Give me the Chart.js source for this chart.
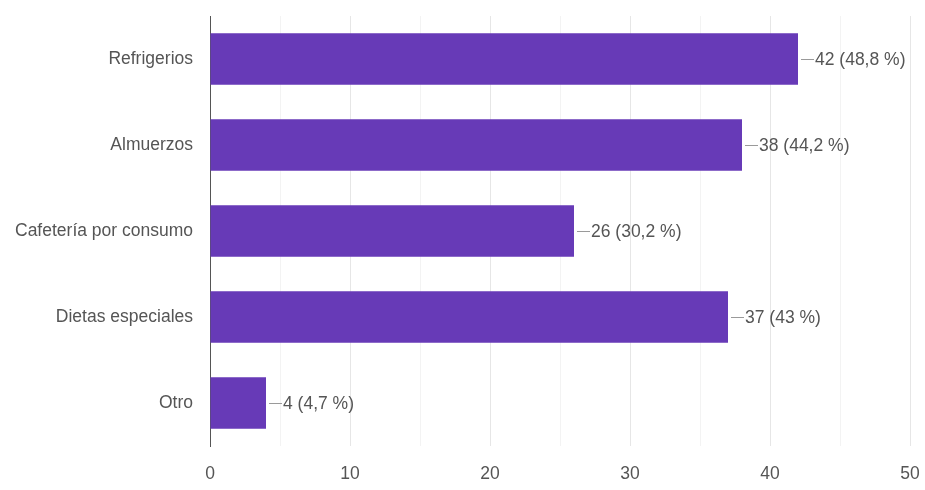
<!DOCTYPE html>
<html>
<head>
<meta charset="utf-8">
<script src="https://cdn.jsdelivr.net/npm/chart.js@4/dist/chart.umd.min.js"></script>
<style>
  html, body { margin: 0; padding: 0; background: #ffffff; }
  #wrap { width: 925px; height: 490px; position: relative; }
</style>
</head>
<body>
<div id="wrap"><canvas id="c" width="925" height="490"></canvas></div>
<script>
const categories = ["Refrigerios", "Almuerzos", "Cafetería por consumo", "Dietas especiales", "Otro"];
const counts = [42, 38, 26, 37, 4];
const percents = [48.8, 44.2, 30.2, 43, 4.7];
const xTickValues = [0, 10, 20, 30, 40, 50];

const FONT = "'Liberation Sans', Arial, sans-serif";
const FSIZE = 17.5;
const TEXT = '#555555';

const valueLabels = {
  id: 'valueLabels',
  afterDatasetsDraw(chart) {
    const ctx = chart.ctx;
    const meta = chart.getDatasetMeta(0);
    ctx.save();
    ctx.font = FSIZE + 'px ' + FONT;
    ctx.textAlign = 'left';
    ctx.textBaseline = 'middle';
    meta.data.forEach((bar, i) => {
      const x = bar.x, y = bar.y;
      ctx.strokeStyle = '#9a9a9a';
      ctx.lineWidth = 1;
      ctx.beginPath();
      ctx.moveTo(x + 3, y + 0.5);
      ctx.lineTo(x + 16, y + 0.5);
      ctx.stroke();
      ctx.fillStyle = TEXT;
      const pct = String(percents[i]).replace('.', ',');
      ctx.fillText(counts[i] + ' (' + pct + ' %)', x + 17, y + 1);
    });
    ctx.restore();
  }
};

new Chart(document.getElementById('c'), {
  type: 'bar',
  data: {
    labels: categories,
    datasets: [{
      data: counts,
      backgroundColor: '#673ab7',
      borderWidth: 0,
      barPercentage: 0.6,
      categoryPercentage: 1.0
    }]
  },
  options: {
    indexAxis: 'y',
    responsive: false,
    animation: false,
    layout: { padding: { top: 16, right: 15, bottom: 0, left: 0 } },
    plugins: { legend: { display: false }, tooltip: { enabled: false } },
    scales: {
      x: {
        min: 0,
        max: 50,
        afterFit(scale) {
          scale.height = 44;
          scale.paddingLeft = 0; scale.paddingRight = 0;
        },
        afterBuildTicks(scale) {
          const t = [];
          for (let v = 0; v <= 50; v += 5) t.push({ value: v });
          scale.ticks = t;
        },
        ticks: {
          color: TEXT,
          font: { family: FONT, size: FSIZE },
          padding: 18,
          autoSkip: false,
          maxRotation: 0,
          callback: (v) => xTickValues.includes(v) ? String(v) : ''
        },
        grid: {
          drawTicks: false,
          color: (c) => (c.tick && c.tick.value % 10 === 0) ? '#e6e6e6' : '#f3f3f3',
          lineWidth: 1
        },
        border: { display: false }
      },
      y: {
        afterFit(scale) {
          scale.width = 210;
          scale.paddingTop = 0; scale.paddingBottom = 0;
        },
        ticks: {
          color: TEXT,
          font: { family: FONT, size: FSIZE },
          padding: 17
        },
        grid: { display: false, drawTicks: false },
        border: { display: true, color: '#555555', width: 1 }
      }
    }
  },
  plugins: [valueLabels]
});
</script>
</body>
</html>
